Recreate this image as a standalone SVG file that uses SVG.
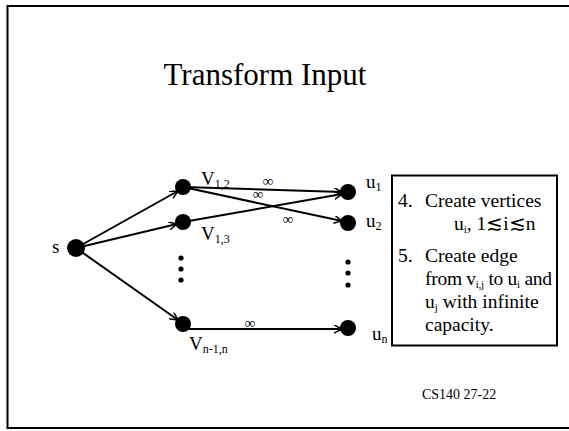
<svg xmlns="http://www.w3.org/2000/svg" width="569" height="431" viewBox="0 0 569 431">
  <style>
    text { font-family: "Liberation Serif", "Times New Roman", serif; fill: #000; }
    .edge { stroke: #000; stroke-width: 2; fill: none; marker-end: url(#arrow); }
    .node { fill: #000; }
    .lbl { font-size: 19px; }
    .sub { font-size: 12px; }
    .inf { font-size: 15px; }
    .note { font-size: 19.5px; }
    .nsub { font-size: 11px; }
  </style>
  <defs>
    <marker id="arrow" markerWidth="10" markerHeight="10" refX="8" refY="4" orient="auto" markerUnits="userSpaceOnUse">
      <path d="M0,0 L8,4 L0,8" fill="none" stroke="#000" stroke-width="1.5"/>
    </marker>
  </defs>

  <!-- slide frame (right side runs off the page) -->
  <path d="M569,6 H7.5 V428 H569" fill="none" stroke="#000" stroke-width="2"/>

  <text x="265" y="85" font-size="31" text-anchor="middle">Transform Input</text>

  <!-- connectors -->
  <g id="edges">
    <line class="edge" x1="76" y1="248" x2="178" y2="191"/>
    <line class="edge" x1="76" y1="248" x2="177" y2="224"/>
    <line class="edge" x1="76" y1="248" x2="178" y2="320"/>
    <line class="edge" x1="183" y1="187" x2="342" y2="192"/>
    <line class="edge" x1="183" y1="187" x2="342" y2="221"/>
    <line class="edge" x1="183" y1="222" x2="342" y2="194"/>
    <line class="edge" x1="183" y1="329" x2="342" y2="329"/>
    <text class="inf" x="268" y="186" text-anchor="middle">∞</text>
    <text class="inf" x="258" y="199" text-anchor="middle">∞</text>
    <text class="inf" x="288" y="224" text-anchor="middle">∞</text>
    <text class="inf" x="250" y="328" text-anchor="middle">∞</text>
  </g>

  <g id="s">
    <circle class="node" cx="76" cy="248" r="9"/>
    <text class="lbl" x="52" y="253">s</text>
  </g>
  <g id="v12">
    <circle class="node" cx="183" cy="187" r="8"/>
    <text class="lbl" x="201" y="185">V<tspan class="sub" dy="3">1,2</tspan></text>
  </g>
  <g id="v13">
    <circle class="node" cx="183" cy="222" r="8"/>
    <text class="lbl" x="201" y="240">V<tspan class="sub" dy="3">1,3</tspan></text>
  </g>
  <g id="vdots">
    <circle class="node" cx="181" cy="258" r="2.6"/>
    <circle class="node" cx="181" cy="269" r="2.6"/>
    <circle class="node" cx="181" cy="280" r="2.6"/>
  </g>
  <g id="vn">
    <circle class="node" cx="183" cy="324" r="8"/>
    <text class="lbl" x="189" y="350">V<tspan class="sub" dy="3">n-1,n</tspan></text>
  </g>
  <g id="u1">
    <circle class="node" cx="348" cy="192" r="8"/>
    <text class="lbl" x="366" y="188">u<tspan class="sub" dy="3">1</tspan></text>
  </g>
  <g id="u2">
    <circle class="node" cx="348" cy="223" r="8"/>
    <text class="lbl" x="366" y="227">u<tspan class="sub" dy="3">2</tspan></text>
  </g>
  <g id="udots">
    <circle class="node" cx="348" cy="262" r="2.6"/>
    <circle class="node" cx="348" cy="273" r="2.6"/>
    <circle class="node" cx="348" cy="285" r="2.6"/>
  </g>
  <g id="un">
    <circle class="node" cx="348" cy="328" r="8"/>
    <text class="lbl" x="372" y="340">u<tspan class="sub" dy="3">n</tspan></text>
  </g>

  <g id="steps">
    <rect x="392" y="175.5" width="165" height="170" fill="#fff" stroke="#000" stroke-width="2"/>
    <text class="note" x="398" y="207">4.</text>
    <text class="note" x="425" y="207">Create vertices</text>
    <text class="note" x="454" y="230">u<tspan class="nsub" dy="3">i</tspan><tspan dy="-3">, 1≲i≲n</tspan></text>
    <text class="note" x="398" y="262">5.</text>
    <text class="note" x="425" y="262">Create edge</text>
    <text class="note" x="425" y="285" textLength="127" lengthAdjust="spacing">from v<tspan class="nsub" dy="3">i,j</tspan><tspan dy="-3"> to u</tspan><tspan class="nsub" dy="3">i</tspan><tspan dy="-3"> and</tspan></text>
    <text class="note" x="425" y="308">u<tspan class="nsub" dy="3">j</tspan><tspan dy="-3"> with infinite</tspan></text>
    <text class="note" x="425" y="331">capacity.</text>
  </g>

  <text x="422" y="399" font-size="14">CS140 27-22</text>
</svg>
